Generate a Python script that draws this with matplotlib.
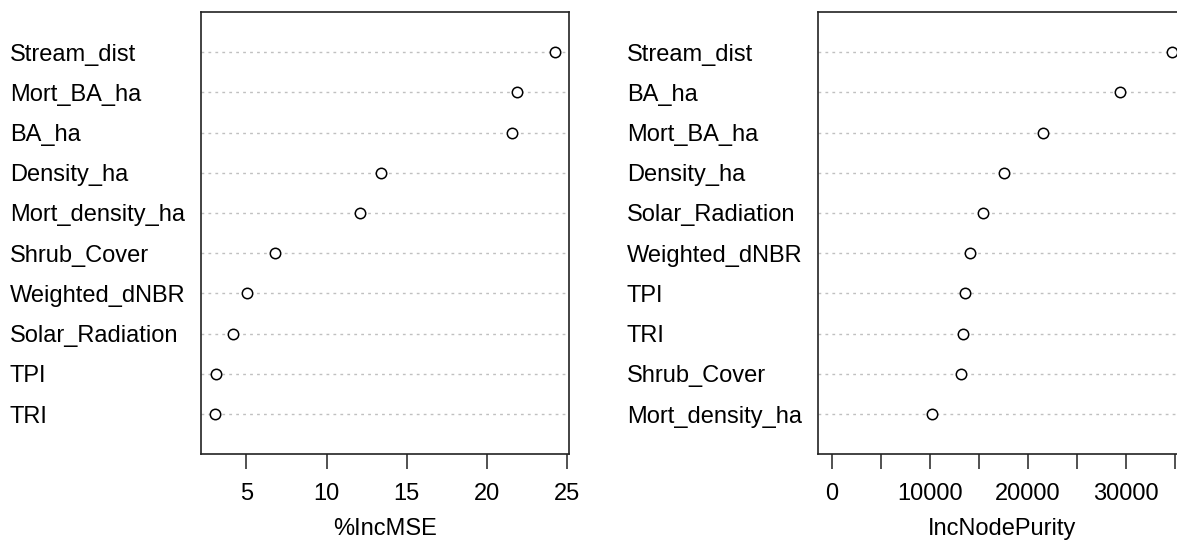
import matplotlib
matplotlib.use("Agg")
import matplotlib.pyplot as plt
from matplotlib.transforms import blended_transform_factory

plt.rcParams['font.family'] = ['Liberation Sans', 'DejaVu Sans']

# %IncMSE panel (top to bottom)
mse_vars = ['Stream_dist', 'Mort_BA_ha', 'BA_ha', 'Density_ha', 'Mort_density_ha',
            'Shrub_Cover', 'Weighted_dNBR', 'Solar_Radiation', 'TPI', 'TRI']
mse_vals = [24.25, 21.84, 21.53, 13.41, 12.10, 6.78, 5.02, 4.15, 3.13, 3.03]

# IncNodePurity panel (top to bottom)
pur_vars = ['Stream_dist', 'BA_ha', 'Mort_BA_ha', 'Density_ha', 'Solar_Radiation',
            'Weighted_dNBR', 'TPI', 'TRI', 'Shrub_Cover', 'Mort_density_ha']
pur_vals = [34690, 29390, 21560, 17580, 15410, 14080, 13570, 13430, 13160, 10270]

mse_ticks = [5, 10, 15, 20, 25]
pur_ticks = [0, 5000, 10000, 15000, 20000, 25000, 30000, 35000]
pur_ticklabels = ['0', '', '10000', '', '20000', '', '30000', '']

FS = 17
W, H = 1177, 540
fig = plt.figure(figsize=(W / 100, H / 100), dpi=100)

# box edges in pixels (top, bottom)
TOP, BOT = 11.8, 454.4


def dotpanel(x0, x1, names, vals, xlim, ticks, ticklabels, xlabel, label_x):
    ax = fig.add_axes([x0 / W, 1 - BOT / H, (x1 - x0) / W, (BOT - TOP) / H])
    n = len(names)
    ys = list(range(n, 0, -1))
    for y in ys:
        ax.axhline(y, color='#c0c0c0', linestyle=(0, (2, 3)), linewidth=1.0, zorder=1)
    ax.plot(vals, ys, 'o', markersize=7.5, markerfacecolor='white',
            markeredgecolor='black', markeredgewidth=1.1, zorder=3, clip_on=False)
    ax.set_ylim(0, n + 1)
    ax.set_xlim(*xlim)
    ax.set_yticks([])
    ax.set_xticks(ticks)
    ax.set_xticklabels(ticklabels, fontsize=FS)
    ax.tick_params(axis='x', length=10.8, width=1.1, pad=10, color='#222222')
    ax.set_xlabel(xlabel, fontsize=FS, labelpad=9)
    for s in ax.spines.values():
        s.set_linewidth(1.2)
        s.set_color('#222222')
    tr = blended_transform_factory(fig.transFigure, ax.transData)
    for name, y in zip(names, ys):
        fig.text(label_x / W, y, name, transform=tr, fontsize=FS,
                 ha='left', va='center_baseline')
    return ax


dotpanel(201, 569, mse_vars, mse_vals,
         (2.18, 25.10), mse_ticks, [str(t) for t in mse_ticks], '%IncMSE', 10)

dotpanel(818, 1185.3, pur_vars, pur_vals,
         (-1388, 36080), pur_ticks, pur_ticklabels, 'IncNodePurity', 627)

fig.savefig('out.png', dpi=100)
